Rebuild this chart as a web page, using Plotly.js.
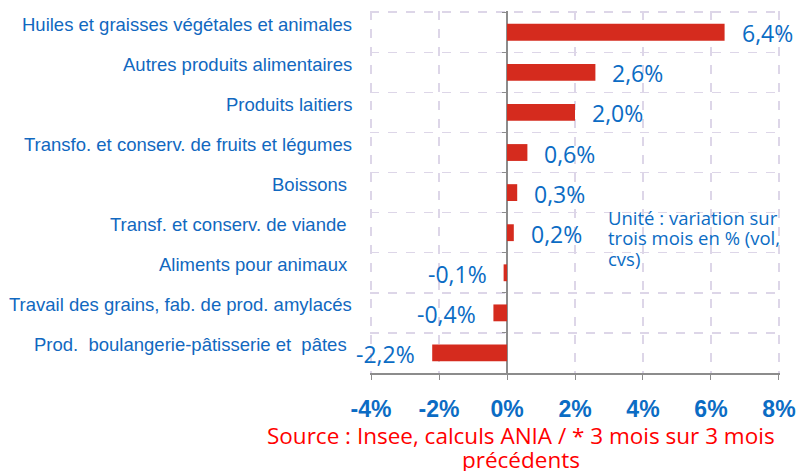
<!DOCTYPE html>
<html>
<head>
<meta charset="utf-8">
<script src="https://cdn.plot.ly/plotly-3.0.1.min.js"></script>
<style>html,body{margin:0;padding:0;background:#fff;}#chart{width:798px;height:471px;}</style>
</head>
<body>
<div id="chart"></div>
<script>
const categories = [
  "Huiles et graisses végétales et animales",
  "Autres produits alimentaires",
  "Produits laitiers",
  "Transfo. et conserv. de fruits et légumes",
  "Boissons\u00a0",
  "Transf. et conserv. de viande\u00a0",
  "Aliments pour animaux\u00a0",
  "Travail des grains, fab. de prod. amylacés",
  "Prod.\u00a0 boulangerie-pâtisserie et\u00a0 pâtes\u00a0"
];
const values = [6.4, 2.6, 2.0, 0.6, 0.3, 0.2, -0.1, -0.4, -2.2];
const valueLabels = ["6,4%", "2,6%", "2,0%", "0,6%", "0,3%", "0,2%", "-0,1%", "-0,4%", "-2,2%"];
const tickVals = [-4, -2, 0, 2, 4, 6, 8];
const tickText = ["-4%", "-2%", "0%", "2%", "4%", "6%", "8%"];
const unitLines = ["Unité : variation sur", "trois mois en % (vol,", "cvs)"];
const sourceLines = ["Source : Insee, calculs ANIA / * 3 mois sur 3 mois", "précédents"];

const blue = "#1168c0";
const valBlue = "#0b6cc4";
const gridColor = "#ddd6e8";
const xRange = [-4.03, 8.03];

const trace = {
  type: "bar",
  orientation: "h",
  y: categories,
  x: values,
  width: 0.42,
  marker: {color: "#d52b1e"},
  hoverinfo: "none"
};

const catAnnotations = categories.map(c => ({
  xref: "paper", yref: "y", x: 0, y: c,
  xanchor: "right", yanchor: "middle",
  xshift: -16, yshift: 8,
  text: c, showarrow: false,
  font: {family: "Liberation Sans, Arial, sans-serif", size: 18.5, color: blue}
}));

const valueAnnotations = values.map((v, i) => ({
  xref: "x", yref: "y", x: v, y: categories[i],
  xanchor: v >= 0 ? "left" : "right", yanchor: "middle",
  xshift: v >= 0 ? 15 : -15, yshift: -1,
  text: valueLabels[i], showarrow: false,
  font: {family: "Open Sans, sans-serif", size: 23, color: valBlue}
}));

const unitAnnotations = unitLines.map((t, i) => ({
  xref: "paper", yref: "paper", x: (2.9 - xRange[0]) / (xRange[1] - xRange[0]), y: 1,
  xanchor: "left", yanchor: "middle",
  yshift: -206 - 20.5 * i,
  text: t, showarrow: false,
  font: {family: "Open Sans, sans-serif", size: 18.5, color: valBlue}
}));

const sourceAnnotations = sourceLines.map((t, i) => ({
  xref: "paper", yref: "paper", x: (521 - 370) / 410, y: 0,
  xanchor: "center", yanchor: "middle",
  yshift: -62 - 24 * i,
  text: t, showarrow: false,
  font: {family: "Open Sans, sans-serif", size: 22.5, color: "#ff0000"}
}));

const layout = {
  width: 798, height: 471,
  margin: {l: 370, r: 18, t: 11, b: 98},
  paper_bgcolor: "#fff", plot_bgcolor: "#fff",
  showlegend: false,
  xaxis: {
    range: xRange,
    tickvals: tickVals, ticktext: tickText,
    showgrid: true, gridcolor: gridColor, griddash: "dash", gridwidth: 1.5,
    zeroline: true, zerolinecolor: "#8c8c8c", zerolinewidth: 1.5,
    showline: true, linecolor: "#8c8c8c", linewidth: 1.5,
    ticks: "outside", ticklen: 5, tickcolor: "#8c8c8c",
    ticklabelstandoff: 10,
    tickfont: {family: "Liberation Sans, Arial, sans-serif", size: 23, color: valBlue, weight: "bold"},
    fixedrange: true
  },
  yaxis: {
    type: "category",
    range: [8.5, -0.53],
    anchor: "free", position: (0 - xRange[0]) / (xRange[1] - xRange[0]),
    tickson: "boundaries",
    ticks: "outside", ticklen: 5, tickcolor: "#8c8c8c",
    showticklabels: false,
    showline: false,
    showgrid: true, gridcolor: gridColor, griddash: "dash", gridwidth: 1.5,
    fixedrange: true
  },
  annotations: catAnnotations.concat(valueAnnotations, unitAnnotations, sourceAnnotations)
};

Plotly.newPlot("chart", [trace], layout, {displayModeBar: false, staticPlot: true});
</script>
</body>
</html>
